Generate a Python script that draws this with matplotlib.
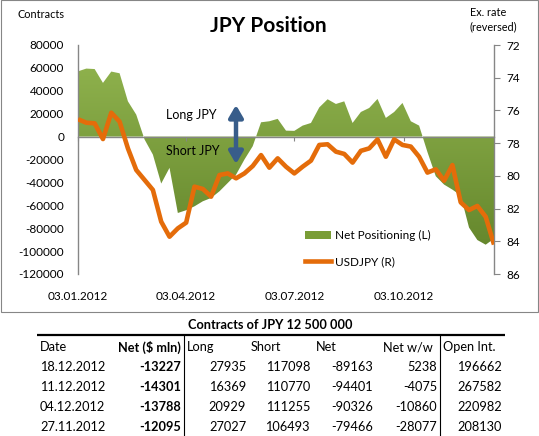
import matplotlib
matplotlib.use('Agg')
import matplotlib.pyplot as plt
import matplotlib.dates as mdates
import numpy as np
import pandas as pd
from matplotlib.patches import Patch, Rectangle
from matplotlib.lines import Line2D
from matplotlib.colors import LinearSegmentedColormap

plt.rcParams['font.family'] = ['Lato', 'DejaVu Sans']

# ---------------- data ----------------
dates = pd.date_range('2012-01-03', periods=51, freq='7D')
net_positioning = [57000, 59400, 59000, 46900, 56800, 55300, 30800, 19200, -2500, -15700,
                   -41000, -27300, -66700, -64300, -60900, -56500, -53600, -47800, -40500, -33200,
                   -20100, -8400, 12500, 13400, 15500, 5200, 5000, 9600, 11900, 25500,
                   32600, 28500, 30800, 11900, 21500, 25000, 32900, 16300, 21500, 29400,
                   13400, 9600, -13500, -34600, -41900, -46300, -51389, -79466, -90326, -94401,
                   -89163]
usdjpy = [76.54, 76.75, 76.79, 77.75, 76.14, 76.69, 78.32, 79.64, 80.25, 80.86,
          82.80, 83.72, 83.21, 82.86, 80.66, 80.80, 81.27, 79.95, 79.85, 80.15,
          79.85, 79.40, 78.73, 79.50, 78.93, 79.44, 79.85, 79.44, 79.07, 78.11,
          78.07, 78.52, 78.66, 79.19, 78.47, 78.32, 77.77, 78.83, 77.77, 78.11,
          78.21, 78.83, 79.80, 79.60, 80.30, 79.34, 81.62, 82.09, 81.84, 82.50,
          84.20]
left_ticks = list(range(-120000, 80001, 20000))
right_ticks = list(range(72, 87, 2))
xtick_dates = pd.to_datetime(['2012-01-03', '2012-04-03', '2012-07-03', '2012-10-03'])

title = 'JPY Position'
legend_labels = ['Net Positioning (L)', 'USDJPY (R)']

table_title = 'Contracts of JPY 12 500 000'
tbl_header = ['Date', 'Net ($ mln)', 'Long', 'Short', 'Net', 'Net w/w', 'Open Int.']
tbl_date = ['18.12.2012', '11.12.2012', '04.12.2012', '27.11.2012']
tbl_net_usd = [-13227, -14301, -13788, -12095]
tbl_long = [27935, 16369, 20929, 27027]
tbl_short = [117098, 110770, 111255, 106493]
tbl_net = [-89163, -94401, -90326, -79466]
tbl_net_ww = [5238, -4075, -10860, -28077]
tbl_open_int = [196662, 267582, 220982, 208130]

# ---------------- styles ----------------
GRAY = '#868686'
ORANGE = '#e46c0a'
GREEN_TOP = '#93b650'
GREEN_BOT = '#5f8128'
ARROW = '#385d8a'

W, H = 539, 436
fig = plt.figure(figsize=(W / 100, H / 100), dpi=100)
fig.patch.set_facecolor('white')

ax = fig.add_axes([78 / W, 1 - 274 / H, (494 - 78) / W, (274 - 45) / H])
ax.patch.set_visible(False)

xnum = mdates.date2num(dates)
poly = ax.fill_between(xnum, net_positioning, 0, facecolor='none', edgecolor='none')
grad = np.linspace(1, 0, 256).reshape(-1, 1)
cmap = LinearSegmentedColormap.from_list('g', [GREEN_BOT, GREEN_TOP])
im = ax.imshow(grad, cmap=cmap, vmin=0, vmax=1, aspect='auto', origin='upper',
               extent=[xnum[0], xnum[-1], left_ticks[0], left_ticks[-1]], zorder=1,
               interpolation='bilinear')
im.set_clip_path(poly.get_paths()[0], transform=ax.transData)

ax.set_xlim(xnum[0], xnum[-1])
ax.set_ylim(left_ticks[0], left_ticks[-1])
ax.set_yticks(left_ticks)
ax.set_yticklabels([str(v) for v in left_ticks])
ax.set_xticks(mdates.date2num(xtick_dates))
ax.xaxis.set_major_formatter(mdates.DateFormatter('%d.%m.%Y'))

for s in ['top', 'right']:
    ax.spines[s].set_visible(False)
ax.spines['bottom'].set_position(('data', 0))
ax.spines['bottom'].set_color(GRAY)
ax.spines['left'].set_color(GRAY)
ax.spines['bottom'].set_linewidth(1.0)
ax.spines['left'].set_linewidth(1.0)
ax.tick_params(axis='y', length=0, pad=10, labelsize=8.5, labelcolor='black')
ax.tick_params(axis='x', direction='out', length=3, color=GRAY, pad=108,
               labelsize=8.5, labelcolor='black')

ax2 = ax.twinx()
ax2.plot(xnum, usdjpy, color=ORANGE, lw=3.3, solid_joinstyle='round',
         solid_capstyle='butt', zorder=3)
ax2.set_ylim(right_ticks[-1], right_ticks[0])
ax2.set_yticks(right_ticks)
ax2.set_yticklabels([str(v) for v in right_ticks])
for s in ['top', 'left', 'bottom']:
    ax2.spines[s].set_visible(False)
ax2.spines['right'].set_color(GRAY)
ax2.spines['right'].set_linewidth(1.0)
ax2.tick_params(axis='y', direction='out', length=4, color=GRAY, pad=5,
                labelsize=8.5, labelcolor='black')
ax2.set_xlim(xnum[0], xnum[-1])

handles = [Patch(facecolor='#7a9d36', edgecolor='none'),
           Line2D([], [], color=ORANGE, lw=3.3)]
fig.legend(handles, legend_labels, loc='upper left',
           bbox_to_anchor=(305 / W, 1 - 230 / H), frameon=False, borderpad=0,
           borderaxespad=0, handlelength=2.2, handleheight=0.7, handletextpad=0.3,
           labelspacing=1.3, fontsize=8.5)

# ---------------- overlay (pixel coordinates) ----------------
ov = fig.add_axes([0, 0, 1, 1])
ov.set_xlim(0, W)
ov.set_ylim(H, 0)
ov.axis('off')
ov.patch.set_visible(False)

ov.add_patch(Rectangle((0.5, 0.5), 537.5, 311.5, fill=False, ec=GRAY, lw=0.8))
ov.text(268, 26, title, ha='center', va='center', fontsize=15, weight='bold')
ov.text(18, 15, 'Contracts', ha='left', va='center', fontsize=7.8)
ov.text(470, 12, 'Ex. rate', ha='left', va='center', fontsize=7.8)
ov.text(470, 27, '(reversed)', ha='left', va='center', fontsize=7.8)
ov.text(166, 115, 'Long JPY', ha='left', va='center', fontsize=9)
ov.text(166, 151, 'Short JPY', ha='left', va='center', fontsize=9)
ov.annotate('', xy=(236, 105), xytext=(236, 164),
            arrowprops=dict(arrowstyle='<|-|>,head_length=0.6,head_width=0.35',
                            lw=3.2, color=ARROW, shrinkA=0, shrinkB=0, mutation_scale=12))

# ---------------- table ----------------
TFS = 9.2
ov.text(270, 325, table_title, ha='center', va='center', fontsize=TFS, weight='bold')
ov.plot([37, 505], [335, 335], color='black', lw=1.6, solid_capstyle='butt')
ov.plot([184, 184], [335, 436], color='black', lw=0.8)
ov.plot([440, 440], [335, 436], color='black', lw=0.8)

hdr_x = [40, 181, 187, 251, 316, 433, 443]
hdr_ha = ['left', 'right', 'left', 'left', 'left', 'right', 'left']
hdr_w = ['normal', 'bold', 'normal', 'normal', 'normal', 'normal', 'normal']
for txt, x, ha, w in zip(tbl_header, hdr_x, hdr_ha, hdr_w):
    ov.text(x, 347, txt, ha=ha, va='center', fontsize=TFS, weight=w)

cols = [tbl_date, tbl_net_usd, tbl_long, tbl_short, tbl_net, tbl_net_ww, tbl_open_int]
col_x = [40, 181, 246, 310, 373, 437, 502]
col_ha = ['left', 'right', 'right', 'right', 'right', 'right', 'right']
col_w = ['normal', 'bold', 'normal', 'normal', 'normal', 'normal', 'normal']
row_y = [367, 387, 407, 427]
for col, x, ha, w in zip(cols, col_x, col_ha, col_w):
    for val, y in zip(col, row_y):
        ov.text(x, y, str(val), ha=ha, va='center', fontsize=TFS, weight=w)

fig.savefig('out.png', dpi=100, facecolor='white')
